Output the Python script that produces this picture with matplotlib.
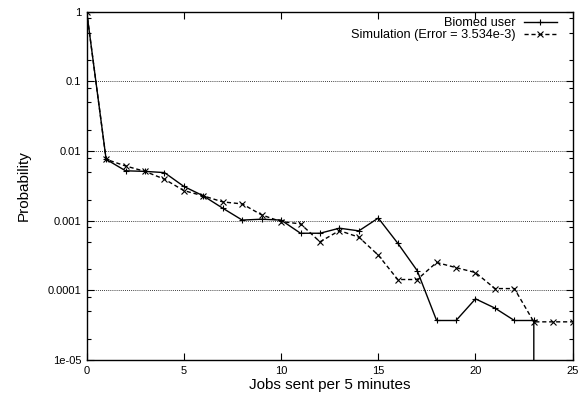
import numpy as np
import matplotlib
matplotlib.use('Agg')
import matplotlib.pyplot as plt
from matplotlib.ticker import LogLocator, FixedLocator, NullFormatter

plt.rc('font', family=['Liberation Sans', 'DejaVu Sans'], size=8)

# Biomed user (measured), last point below the plot range -> vertical drop
biomed_x = [0, 1, 2, 3, 4, 5, 6, 7, 8, 9, 10, 11, 12, 13, 14, 15, 16, 17,
            18, 19, 20, 21, 22, 23, 23]
biomed_y = [1.0, 0.0076, 0.0052, 0.0051, 0.0049, 0.0031, 0.00227, 0.00151,
            0.00102, 0.00105, 0.00102, 0.00066, 0.00066, 0.00078, 0.000714,
            0.00109, 0.000475, 0.000192, 3.69e-5, 3.69e-5, 7.55e-5, 5.56e-5,
            3.69e-5, 3.69e-5, 1e-7]

# Simulation
sim_x = [0, 1, 2, 3, 4, 5, 6, 7, 8, 9, 10, 11, 12, 13, 14, 15, 16, 17,
         18, 19, 20, 21, 22, 23, 24, 25]
sim_y = [1.0, 0.0076, 0.0061, 0.0051, 0.00394, 0.0027, 0.00227, 0.00186,
         0.00174, 0.00121, 0.00097, 0.0009, 0.000497, 0.00072, 0.00058,
         0.00032, 0.000143, 0.000143, 0.000251, 0.000212, 0.00018, 0.000106,
         0.000106, 3.53e-5, 3.53e-5, 3.53e-5]

fig = plt.figure(figsize=(5.81, 4.03), dpi=100)
ax = fig.add_axes([0.1492, 0.1067, 0.8365, 0.8643])

ax.plot(biomed_x, biomed_y, 'k-', lw=1, marker='+', ms=5, mew=0.8,
        label='Biomed user')
ax.plot(sim_x, sim_y, 'k--', lw=1, dashes=(3, 2), marker='x', ms=4.5,
        mew=0.8, label='Simulation (Error = 3.534e-3)')

ax.set_yscale('log')
ax.set_xlim(0, 25)
ax.set_ylim(1e-5, 1)

ax.xaxis.set_major_locator(FixedLocator([0, 5, 10, 15, 20, 25]))
ax.yaxis.set_major_locator(FixedLocator([1e-5, 1e-4, 1e-3, 1e-2, 1e-1, 1]))
ax.set_yticklabels(['1e-05', '0.0001', '0.001', '0.01', '0.1', '1'])
ax.yaxis.set_minor_locator(LogLocator(base=10, subs=(2, 5, 8)))
ax.yaxis.set_minor_formatter(NullFormatter())

ax.tick_params(which='both', direction='in', top=True, right=True,
               labelsize=8, width=0.8, pad=4)
ax.tick_params(which='major', length=5)
ax.tick_params(which='minor', length=3)

for y in [1e-4, 1e-3, 1e-2, 1e-1]:
    ax.axhline(y, color='k', lw=0.6, ls=(0, (1, 1.5)), zorder=0)

for s in ax.spines.values():
    s.set_linewidth(1)

ax.set_xlabel('Jobs sent per 5 minutes', fontsize=11, labelpad=2)
ax.set_ylabel('Probability', fontsize=11, labelpad=12)

ax.legend(loc='upper right', bbox_to_anchor=(0.978, 0.998), frameon=False,
          markerfirst=False, handlelength=2.6, handletextpad=0.6,
          labelspacing=0.0, fontsize=9.2, borderaxespad=0)

fig.savefig('out.png', dpi=100)
